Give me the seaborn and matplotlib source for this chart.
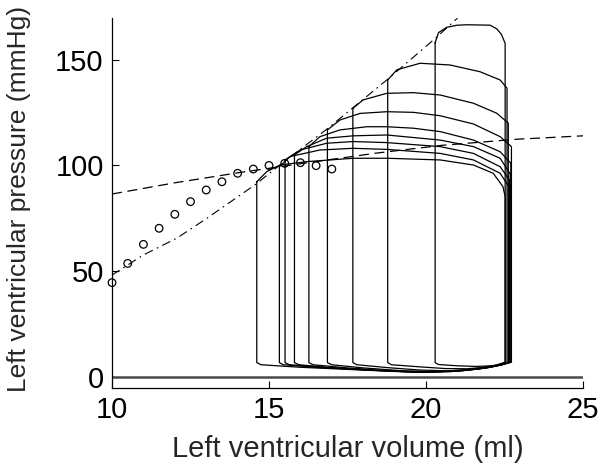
import numpy as np
import pandas as pd
import matplotlib
matplotlib.use("Agg")
import matplotlib.pyplot as plt
import seaborn as sns

# ---- data ----
# pressure-volume loops: top (ejection) curve and bottom (filling) curve
top_v = [
    [14.61, 14.93, 15.35, 16.20, 17.68, 18.75, 20.45, 21.51, 22.14, 22.45, 22.52],
    [15.33, 15.67, 16.62, 17.68, 18.75, 20.45, 21.51, 22.36, 22.64],
    [15.51, 15.99, 16.84, 17.68, 18.75, 20.45, 21.51, 22.36, 22.66],
    [15.81, 16.20, 16.84, 17.68, 18.75, 20.45, 21.51, 22.36, 22.68],
    [16.27, 16.62, 17.26, 18.11, 18.75, 19.60, 20.45, 21.51, 22.36, 22.70],
    [16.86, 17.26, 17.90, 18.75, 19.60, 20.45, 21.51, 22.36, 22.72],
    [17.67, 18.00, 18.75, 19.60, 20.45, 21.51, 22.25, 22.62],
    [18.78, 19.07, 19.81, 20.76, 21.72, 22.36, 22.58],
    [20.29, 20.40, 20.66, 21.00, 21.30, 22.04, 22.25, 22.40, 22.52],
]
top_p = [
    [92.3, 97.1, 100.2, 101.8, 103.4, 103.4, 102.6, 100.2, 96.3, 90.0, 85.3],
    [99.4, 104.2, 107.3, 108.1, 107.6, 105.7, 102.6, 96.3, 90.0],
    [102.6, 107.3, 110.5, 111.3, 110.8, 108.9, 105.7, 99.4, 93.1],
    [105.0, 108.9, 112.9, 114.0, 114.4, 112.0, 108.9, 103.4, 96.0],
    [108.9, 113.6, 116.8, 118.3, 118.3, 117.6, 116.0, 112.0, 106.5, 101.0],
    [116.8, 121.5, 124.6, 125.4, 125.1, 123.5, 119.6, 113.6, 108.9],
    [127.0, 131.0, 134.1, 134.4, 133.3, 129.4, 124.7, 120.0],
    [140.4, 145.2, 148.3, 147.5, 144.3, 140.4, 136.5],
    [158.0, 162.8, 165.3, 166.3, 166.5, 166.3, 164.6, 162.0, 157.7],
]
bot_v = [
    [14.61, 14.75, 16.0, 17.5, 19.0, 20.5, 21.5, 22.2, 22.52],
    [15.33, 15.45, 16.5, 18.0, 19.5, 20.8, 21.7, 22.3, 22.64],
    [15.51, 15.65, 16.8, 18.3, 19.6, 20.8, 21.8, 22.4, 22.66],
    [15.81, 15.95, 17.0, 18.5, 19.8, 21.0, 21.9, 22.4, 22.68],
    [16.27, 16.40, 17.5, 18.8, 20.0, 21.1, 21.9, 22.4, 22.70],
    [16.86, 17.00, 18.0, 19.2, 20.3, 21.2, 22.0, 22.45, 22.72],
    [17.67, 17.80, 18.8, 19.8, 20.7, 21.5, 22.1, 22.45, 22.62],
    [18.78, 18.90, 19.8, 20.6, 21.3, 21.9, 22.3, 22.58],
    [20.29, 20.40, 21.0, 21.6, 22.1, 22.4, 22.52],
]
bot_p = [
    [6.8, 5.8, 4.6, 3.6, 2.6, 2.6, 3.8, 5.5, 7.0],
    [6.8, 5.8, 4.6, 3.4, 2.4, 2.6, 4.0, 5.6, 7.0],
    [6.8, 5.8, 4.5, 3.2, 2.3, 2.6, 4.1, 5.7, 7.0],
    [6.8, 5.8, 4.4, 3.1, 2.2, 2.7, 4.2, 5.7, 7.0],
    [6.8, 5.8, 4.3, 3.0, 2.3, 2.9, 4.3, 5.8, 7.0],
    [6.8, 5.8, 4.3, 3.0, 2.5, 3.1, 4.5, 5.9, 7.0],
    [6.8, 5.8, 4.4, 3.3, 2.9, 3.5, 4.8, 6.0, 7.0],
    [6.8, 5.8, 4.8, 4.0, 3.9, 4.6, 5.6, 7.0],
    [6.8, 5.9, 5.3, 5.0, 5.3, 6.1, 7.0],
]

# open circles
circ_v = [10.0, 10.5, 11.0, 11.5, 12.0, 12.5, 13.0, 13.5, 14.0, 14.5, 15.0, 15.5, 16.0, 16.5, 17.0]
circ_p = [44.6, 53.7, 62.7, 70.3, 76.9, 82.9, 88.4, 92.3, 96.3, 98.3, 100.0, 101.0, 101.3, 99.9, 98.3]

# dashed curve
dash_v = [10, 12, 14, 16, 18.4, 20.5, 22.9, 25]
dash_p = [86.5, 91.8, 96.5, 100.8, 105.8, 109.5, 112.4, 114.0]

# dash-dot curve
dd_v = [10, 11, 12.06, 13.02, 13.86, 14.55, 15.5, 16.87, 17.65, 18.75, 20.29, 21.0]
dd_p = [48.2, 57.7, 65.6, 75.0, 83.7, 90.8, 102.0, 117.5, 127.0, 140.4, 160.0, 169.6]

x_ticks = [10, 15, 20, 25]
y_ticks = [0, 50, 100, 150]
x_label = "Left ventricular volume (ml)"
y_label = "Left ventricular pressure (mmHg)"

# ---- drawing ----
sns.set_style("ticks", {"xtick.direction": "in", "ytick.direction": "in"})
plt.rcParams["font.family"] = ["Liberation Sans", "DejaVu Sans"]

fig = plt.figure(figsize=(6.0, 4.71), dpi=100)
ax = fig.add_axes([0.1867, 0.1762, 0.785, 0.7856])

ax.axhline(0, color="#4a4a4a", lw=1.8, zorder=1)

for tv, tp, bv, bp in zip(top_v, top_p, bot_v, bot_p):
    vv = list(tv) + list(bv[::-1]) + [tv[0]]
    pp = list(tp) + list(bp[::-1]) + [tp[0]]
    df = pd.DataFrame({"v": vv, "p": pp})
    sns.lineplot(data=df, x="v", y="p", sort=False, estimator=None,
                 color="black", lw=0.9, ax=ax)

sns.lineplot(x=dash_v, y=dash_p, sort=False, estimator=None, color="black",
             lw=0.9, ax=ax, linestyle=(0, (8, 4.5)))
sns.lineplot(x=dd_v, y=dd_p, sort=False, estimator=None, color="black",
             lw=0.8, ax=ax, linestyle=(0, (8, 4, 1.5, 4)))
sns.scatterplot(x=circ_v, y=circ_p, marker="o", s=30, facecolor="none",
                edgecolor="black", linewidth=0.9, ax=ax, clip_on=False, zorder=5)

ax.set_xlim(10, 25)
ax.set_ylim(-5.2, 169.7)
ax.set_xticks(x_ticks)
ax.set_yticks(y_ticks)
ax.tick_params(axis="both", labelsize=21, length=5, width=0.8, pad=6,
               direction="in", colors="black")
ax.set_xlabel(x_label, fontsize=21, labelpad=8)
ax.set_ylabel(y_label, fontsize=19)
ax.yaxis.set_label_coords(-0.172, 0.51)
sns.despine(ax=ax)
for s in ["left", "bottom"]:
    ax.spines[s].set_linewidth(0.9)
    ax.spines[s].set_color("black")

fig.savefig("out.png", dpi=100)
